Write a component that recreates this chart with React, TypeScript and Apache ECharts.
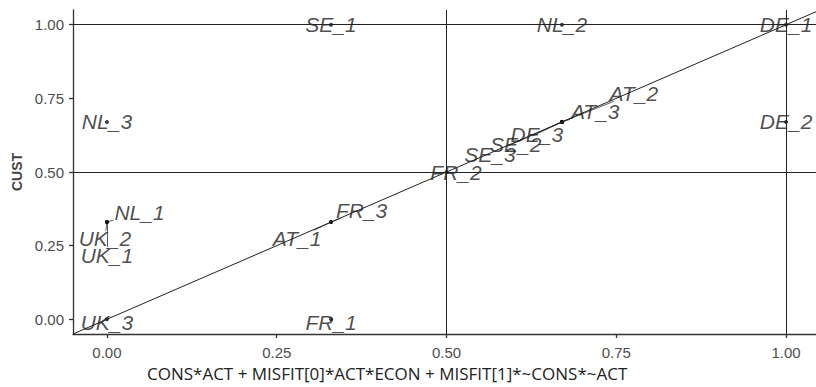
import React, { useEffect, useRef } from "react";
import * as echarts from "echarts";

// Case labels
const labels = [
  "DE_1", "DE_2", "NL_2", "SE_1", "NL_3", "NL_1", "UK_2", "UK_1", "UK_3",
  "FR_1", "AT_1", "FR_3", "FR_2", "SE_3", "SE_2", "DE_3", "AT_3", "AT_2",
];
// Point values (x = solution term, y = CUST)
const xValues = [1, 1, 0.67, 0.33, 0, 0, 0, 0, 0, 0.33, 0.33, 0.33, 0.5, 0.67, 0.67, 0.67, 0.67, 0.67];
const yValues = [1, 0.67, 1, 1, 0.67, 0.33, 0.33, 0.33, 0, 0, 0.33, 0.33, 0.5, 0.67, 0.67, 0.67, 0.67, 0.67];
// Where the (repelled) labels sit, in data units
const labelX = [1, 1, 0.67, 0.33, 0, 0.048, -0.003, 0, 0, 0.33, 0.28, 0.375, 0.514, 0.564, 0.602, 0.633, 0.719, 0.776];
const labelY = [1, 0.67, 1, 1, 0.67, 0.363, 0.273, 0.218, -0.01, -0.012, 0.275, 0.37, 0.5, 0.561, 0.595, 0.629, 0.706, 0.767];

const tickValues = [0, 0.25, 0.5, 0.75, 1];
const refX = [0.5, 1];
const refY = [0.5, 1];
const diagonal = [[-0.05, -0.05], [1.05, 1.05]];

const xTitle = "CONS*ACT + MISFIT[0]*ACT*ECON + MISFIT[1]*~CONS*~ACT";
const yTitle = "CUST";

export default function App() {
  const ref = useRef<HTMLDivElement>(null);
  useEffect(() => {
    if (!ref.current) return;
    const chart = echarts.init(ref.current, null, { renderer: "svg" });

    // label-to-point connector segments (end at label box edge)
    const PX_X = 679, PX_Y = 295, HW = 26, HH = 8;
    const segments: any[] = [];
    labels.forEach((_, i) => {
      const dx = (xValues[i] - labelX[i]) * PX_X;
      const dy = (yValues[i] - labelY[i]) * PX_Y;
      const tx = Math.abs(dx) > 0.5 ? HW / Math.abs(dx) : Infinity;
      const ty = Math.abs(dy) > 0.5 ? HH / Math.abs(dy) : Infinity;
      const t = Math.min(tx, ty);
      if (t >= 1) return;
      const ex = labelX[i] + t * (xValues[i] - labelX[i]);
      const ey = labelY[i] + t * (yValues[i] - labelY[i]);
      segments.push({ coords: [[xValues[i], yValues[i]], [ex, ey]] });
    });

    const axisCommon = {
      type: "value",
      min: -0.05,
      max: 1.05,
      splitLine: { show: false },
      axisLine: { show: true, onZero: false, lineStyle: { color: "#333", width: 1.3 } },
      axisTick: { show: true, customValues: tickValues, length: 4, lineStyle: { color: "#333", width: 1.3 } },
    };

    chart.setOption({
      animation: false,
      grid: { left: 73, top: 10, width: 747, height: 324, outerBoundsMode: "none" },
      xAxis: {
        ...axisCommon,
        axisLabel: {
          customValues: tickValues,
          formatter: (v: number) => v.toFixed(2),
          color: "#4d4d4d",
          fontSize: 15,
          fontFamily: "Liberation Sans",
          margin: 11,
        },
      },
      yAxis: {
        ...axisCommon,
        name: yTitle,
        nameLocation: "middle",
        nameGap: 44,
        nameRotate: 90,
        nameTextStyle: { color: "#444", fontSize: 14, fontWeight: "bold", fontFamily: "Liberation Sans" },
        axisLabel: {
          customValues: tickValues,
          formatter: (v: number) => v.toFixed(2),
          color: "#4d4d4d",
          fontSize: 15,
          fontFamily: "Liberation Sans",
          margin: 9,
        },
      },
      graphic: [
        {
          type: "text",
          left: 147,
          top: 365,
          style: { text: xTitle, fill: "#222", fontSize: 17, fontFamily: "Open Sans" },
        },
      ],
      series: [
        {
          type: "line",
          data: diagonal,
          symbol: "none",
          lineStyle: { color: "#222", width: 1 },
          silent: true,
          markLine: {
            silent: true,
            symbol: "none",
            label: { show: false },
            lineStyle: { color: "#222", width: 1, type: "solid" },
            data: [
              ...refY.map((v) => ({ yAxis: v })),
              ...refX.map((v) => ({ xAxis: v })),
            ],
          },
        },
        {
          type: "lines",
          coordinateSystem: "cartesian2d",
          data: segments,
          lineStyle: { color: "#333", width: 0.8, opacity: 1 },
          silent: true,
        },
        {
          type: "scatter",
          data: labels.map((n, i) => [xValues[i], yValues[i]]),
          symbolSize: 4,
          itemStyle: { color: "#111" },
          silent: true,
        },
        {
          type: "scatter",
          data: labels.map((n, i) => ({ name: n, value: [labelX[i], labelY[i]] })),
          symbolSize: 0,
          silent: true,
          label: {
            show: true,
            position: "inside",
            formatter: (p: any) => p.name,
            color: "#1e1e1e",
            fontSize: 21,
            fontStyle: "italic",
            fontFamily: "Liberation Sans",
          },
        },
      ],
    });
    return () => chart.dispose();
  }, []);
  return (
    <div
      ref={ref}
      style={{ position: "fixed", left: 0, top: 0, width: 816, height: 387, background: "#fff" }}
    />
  );
}
